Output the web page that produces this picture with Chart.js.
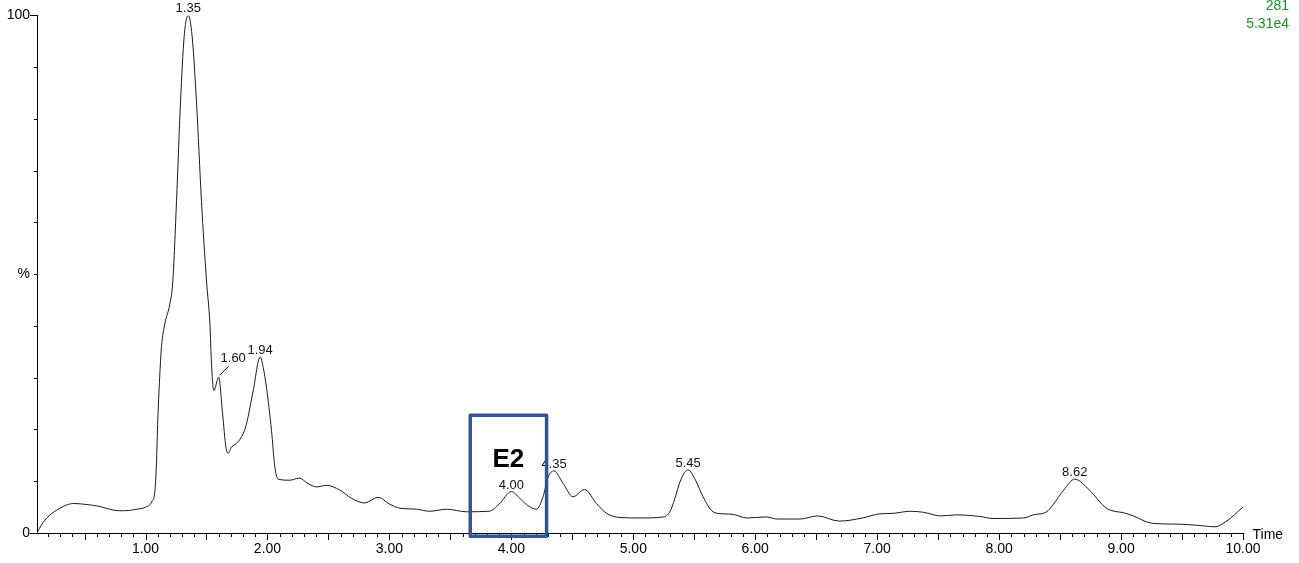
<!DOCTYPE html>
<html>
<head>
<meta charset="utf-8">
<script src="https://cdn.jsdelivr.net/npm/chart.js@4.4.1/dist/chart.umd.min.js"></script>
<style>
  html, body { margin: 0; padding: 0; background: #fff; }
  canvas { display: block; }
</style>
</head>
<body>
<canvas id="chrom" width="1299" height="563"></canvas>
<script>
// Retention time (min) and relative intensity (%) of the trace
const retentionTimes = [
  0.11, 0.13, 0.16, 0.19, 0.27, 0.41, 0.52, 0.63, 0.74, 0.82, 0.93, 1.00,
  1.05, 1.077, 1.089, 1.101, 1.118, 1.131, 1.158, 1.199, 1.224, 1.254, 1.287, 1.317,
  1.35, 1.382, 1.418, 1.459, 1.500, 1.528, 1.541, 1.560, 1.60, 1.632, 1.659, 1.678,
  1.705, 1.746, 1.801, 1.828, 1.883, 1.94, 1.965, 1.992, 2.033, 2.061, 2.088, 2.184,
  2.26, 2.33, 2.402, 2.484, 2.593, 2.689, 2.798, 2.907, 3.00, 3.085, 3.222, 3.331,
  3.468, 3.632, 3.818, 3.90, 4.00, 4.07, 4.124, 4.206, 4.260, 4.301, 4.35, 4.424,
  4.506, 4.60, 4.698, 4.78, 4.889, 5.053, 5.244, 5.30, 5.34, 5.39, 5.45, 5.51,
  5.572, 5.654, 5.74, 5.82, 5.93, 6.09, 6.18, 6.37, 6.51, 6.69, 6.88, 7.02,
  7.13, 7.27, 7.38, 7.52, 7.65, 7.84, 7.95, 8.20, 8.28, 8.39, 8.44, 8.53,
  8.62, 8.74, 8.88, 9.04, 9.10, 9.25, 9.48, 9.62, 9.77, 9.86, 10.00
];
const relIntensity = [
  0.0, 0.9, 2.0, 2.9, 4.4, 5.7, 5.5, 5.1, 4.4, 4.3, 4.6, 5.0,
  6.0, 8.2, 13.0, 22.0, 31.0, 36.0, 40.4, 44.2, 48.7, 64.0, 83.3, 96.0,
  100.0, 96.0, 83.3, 64.0, 48.7, 40.4, 32.7, 27.5, 30.1, 23.0, 16.6, 15.4,
  16.6, 17.3, 19.2, 21.1, 27.5, 34.0, 32.0, 28.1, 19.8, 12.7, 10.4, 10.2,
  10.6, 9.6, 8.9, 9.2, 8.3, 6.7, 5.8, 6.9, 5.6, 4.8, 4.6, 4.2,
  4.6, 4.1, 4.2, 5.6, 8.0, 6.7, 5.5, 4.6, 7.0, 10.8, 12.0, 9.6,
  7.0, 8.4, 5.7, 3.8, 3.0, 2.9, 3.1, 4.1, 6.6, 10.3, 12.2, 10.2,
  7.0, 4.1, 3.7, 3.6, 2.9, 3.1, 2.7, 2.7, 3.3, 2.3, 2.9, 3.7,
  3.8, 4.2, 4.0, 3.3, 3.5, 3.2, 2.8, 2.9, 3.5, 4.1, 5.4, 8.3,
  10.4, 8.3, 4.8, 3.8, 3.3, 1.9, 1.7, 1.5, 1.2, 2.2, 5.0
];

// Labelled peak apexes (min)
const peakTimes = [1.35, 1.60, 1.94, 4.00, 4.35, 5.45, 8.62];

// Axis labels
const timeTickLabels = ['1.00', '2.00', '3.00', '4.00', '5.00', '6.00', '7.00', '8.00', '9.00', '10.00'];
const yTickValues = [0, 50, 100];
const yTickText = ['0', '%', '100'];
const xAxisTitle = 'Time';

// Trace header: mass and base-peak intensity
const massLabel = '281';
const maxIntensityLabel = '5.31e4';

// Highlighted elution window
const e2Label = 'E2';
const e2Window = [3.663, 4.289];
const e2Range = [-0.63, 22.75];

const FONT = "'Liberation Sans', Arial, Helvetica, sans-serif";
Chart.defaults.font.family = FONT;

const minorTimeTicks = [];
for (let k = 2; k <= 100; k++) minorTimeTicks.push(k / 10);
const yTicks = [];
for (let k = 0; k <= 10; k++) yTicks.push(k * 10);

const overlay = {
  id: 'overlay',
  afterDraw(chart) {
    const { ctx, scales: { x, y } } = chart;
    ctx.save();

    // tick marks
    ctx.strokeStyle = '#000';
    ctx.lineWidth = 1;
    x.ticks.forEach(t => {
      const k = Math.round(t.value * 10);
      const len = k % 5 === 0 ? 7 : 4;
      const px = Math.round(x.getPixelForValue(t.value)) + 0.5;
      ctx.beginPath();
      ctx.moveTo(px, y.bottom);
      ctx.lineTo(px, y.bottom + len);
      ctx.stroke();
    });
    y.ticks.forEach(t => {
      const len = (t.value === 0 || t.value === 100) ? 7 : 3;
      const py = Math.round(y.getPixelForValue(t.value)) + 0.5;
      ctx.beginPath();
      ctx.moveTo(x.left, py);
      ctx.lineTo(x.left - len, py);
      ctx.stroke();
    });

    // axis title
    ctx.fillStyle = '#000';
    ctx.font = '14px ' + FONT;
    ctx.textAlign = 'left';
    ctx.textBaseline = 'alphabetic';
    ctx.fillText(xAxisTitle, x.right + 9.5, y.bottom + 6);

    // trace header
    ctx.fillStyle = '#1f8f1f';
    ctx.textAlign = 'right';
    ctx.fillText(massLabel, 1289, 10.3);
    ctx.fillText(maxIntensityLabel, 1289, 27.8);

    // peak apex labels
    ctx.fillStyle = '#111';
    ctx.strokeStyle = '#111';
    ctx.font = '13px ' + FONT;
    ctx.textAlign = 'center';
    peakTimes.forEach(t => {
      const i = retentionTimes.indexOf(t);
      const px = x.getPixelForValue(t);
      const py = y.getPixelForValue(relIntensity[i]);
      const text = t.toFixed(2);
      if (t === 1.60) {
        ctx.beginPath();
        ctx.moveTo(px + 1, py - 2);
        ctx.lineTo(px + 10, py - 11);
        ctx.stroke();
        ctx.fillText(text, px + 14.5, py - 15);
      } else {
        ctx.fillText(text, px, py - 3);
      }
    });

    // E2 window
    const bx0 = x.getPixelForValue(e2Window[0]);
    const bx1 = x.getPixelForValue(e2Window[1]);
    const by0 = y.getPixelForValue(e2Range[1]);
    const by1 = y.getPixelForValue(e2Range[0]);
    ctx.strokeStyle = '#2f5597';
    ctx.lineWidth = 3.5;
    ctx.lineJoin = 'round';
    ctx.strokeRect(bx0, by0, bx1 - bx0, by1 - by0);
    ctx.fillStyle = '#000';
    ctx.font = 'bold 26px ' + FONT;
    ctx.textAlign = 'center';
    ctx.fillText(e2Label, (bx0 + bx1) / 2, y.getPixelForValue(14.5) + 9.3);

    ctx.restore();
  }
};

new Chart(document.getElementById('chrom'), {
  type: 'line',
  data: {
    datasets: [{
      data: retentionTimes.map((t, i) => ({ x: t, y: relIntensity[i] })),
      borderColor: '#1a1a1a',
      borderWidth: 1,
      pointRadius: 0,
      fill: false,
      cubicInterpolationMode: 'monotone'
    }]
  },
  options: {
    responsive: false,
    animation: false,
    devicePixelRatio: 1,
    layout: { padding: { top: 13, right: 56, left: 0, bottom: 0 } },
    plugins: { legend: { display: false }, tooltip: { enabled: false } },
    scales: {
      x: {
        type: 'linear',
        min: 0.11,
        max: 10,
        afterBuildTicks(s) { s.ticks = minorTimeTicks.map(v => ({ value: v })); },
        afterFit(s) { s.height = 30; },
        grid: { display: false, drawTicks: false },
        border: { display: true, color: '#000', width: 1 },
        ticks: {
          autoSkip: false,
          maxRotation: 0,
          padding: 8,
          color: '#000',
          font: { size: 14 },
          callback(v) {
            const k = Math.round(v * 10);
            return k % 10 === 0 ? timeTickLabels[k / 10 - 1] : '';
          }
        }
      },
      y: {
        min: 0,
        max: 100,
        afterBuildTicks(s) { s.ticks = yTicks.map(v => ({ value: v })); },
        afterFit(s) { s.width = 37; },
        grid: { display: false, drawTicks: false },
        border: { display: true, color: '#000', width: 1 },
        ticks: {
          autoSkip: false,
          padding: 7,
          color: '#000',
          font: { size: 14 },
          callback(v) {
            const i = yTickValues.indexOf(Math.round(v));
            return i >= 0 ? yTickText[i] : '';
          }
        }
      }
    }
  },
  plugins: [overlay]
});
</script>
</body>
</html>
